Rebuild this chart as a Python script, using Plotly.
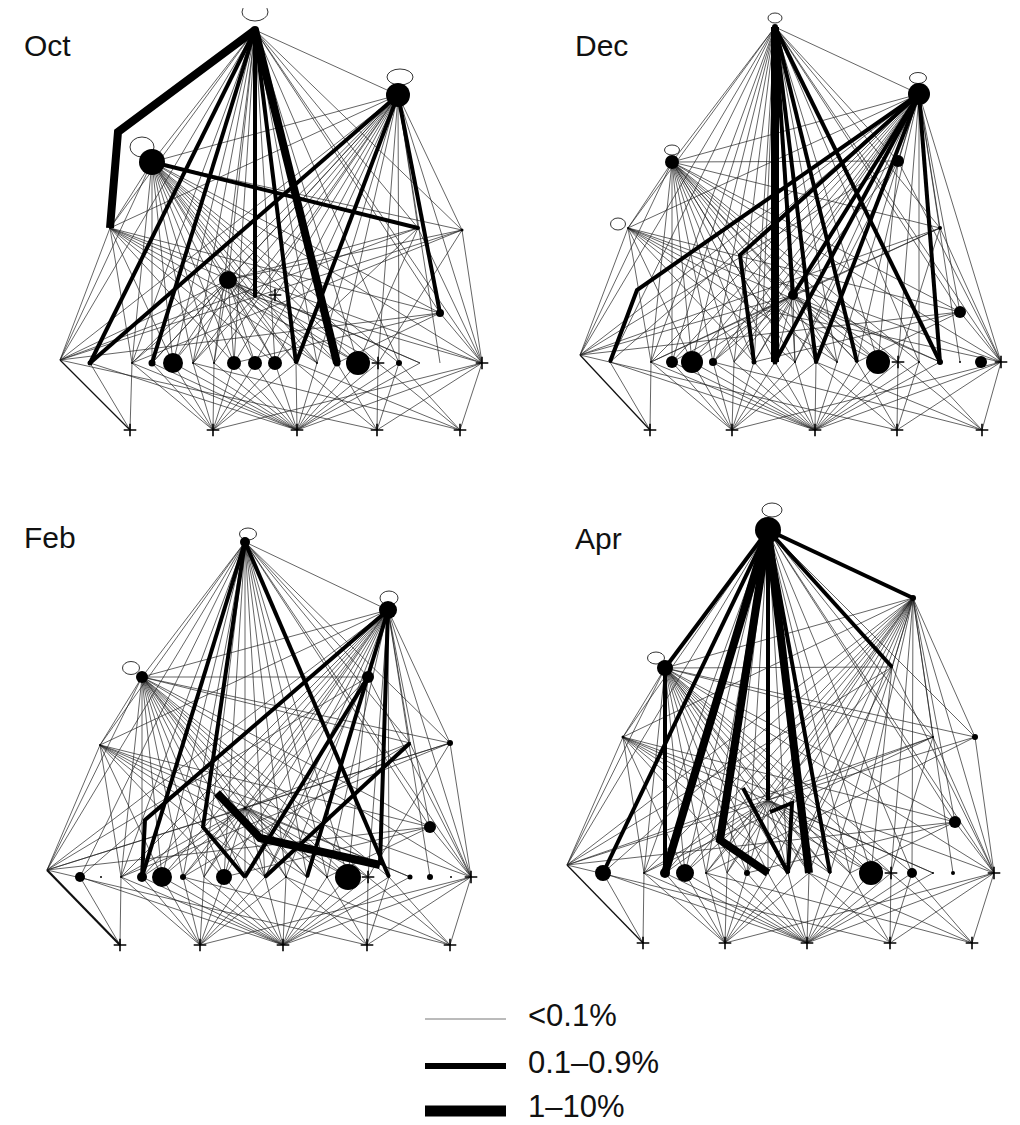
import plotly.graph_objects as go

# ---------------- data ----------------
PANELS = ["Oct", "Dec", "Feb", "Apr"]

# node order: 0 T,1 R,2 L,3 M,4 H,5 A,6 P,7 Q,8 S,9 Q2, 10-29 bottom row B0-B19, 30-34 basal D0-D4, 35+ bends/extras
OCT_X = [255, 398, 152, 228, 60, 110, 418, 462, 440, 255,
         90, 111, 132, 152, 173, 193, 214, 234, 255, 275, 296, 317, 337, 358, 378, 399, 420, 440, 461, 482,
         130, 213, 297, 377, 460, 118, 275]
OCT_Y = [30, 95, 162, 280, 360, 228, 228, 230, 313, 297,
         363, 363, 363, 363, 363, 363, 363, 363, 363, 363, 363, 363, 363, 363, 363, 363, 363, 363, 363, 363,
         430, 430, 430, 430, 430, 132, 295]
OCT_SIZE = [8, 24, 26, 18, 0, 2, 4, 3, 8, 2,
            5, 0, 2, 7, 20, 2, 2, 14, 14, 14, 2, 2, 7, 24, 0, 6, 0, 0, 0, 0,
            0, 0, 0, 0, 0, 0, 0]
OCT_CROSS = [24, 29, 30, 31, 32, 33, 34, 36]
OCT_LOOPS = [[255, 12, 26, 18], [400, 77, 26, 16], [142, 147, 24, 20]]
OCT_MED = [[0, 9], [0, 10], [0, 13], [0, 20], [1, 8], [1, 10], [1, 20], [2, 6]]
OCT_THICK = [[0, 35, 5], [0, 22]]

DEC_X = [265, 409, 162, 283, 70, 118, 388, 430, 450, 253,
         100, 121, 141, 162, 182, 203, 224, 244, 265, 285, 306, 327, 347, 368, 388, 409, 430, 450, 471, 491,
         140, 222, 305, 387, 472, 127, 230]
DEC_Y = [27, 94, 162, 295, 355, 228, 161, 228, 312, 310,
         362, 362, 362, 362, 362, 362, 362, 362, 362, 362, 362, 362, 362, 362, 362, 362, 362, 362, 362, 362,
         430, 430, 430, 430, 430, 290, 255]
DEC_SIZE = [6, 22, 14, 10, 0, 2, 12, 4, 12, 0,
            2, 0, 2, 12, 22, 8, 0, 5, 5, 2, 4, 2, 2, 24, 0, 2, 6, 2, 12, 0,
            0, 0, 0, 0, 0, 0, 0]
DEC_CROSS = [24, 29, 30, 31, 32, 33, 34]
DEC_LOOPS = [[265, 18, 14, 10], [408, 78, 17, 11], [162, 150, 15, 10], [108, 224, 15, 12]]
DEC_MED = [[0, 20], [0, 22], [0, 26], [0, 3], [1, 35, 10], [1, 36, 17], [1, 18], [1, 3], [1, 20], [1, 26]]
DEC_THICK = [[0, 18]]

FEB_X = [245, 388, 142, 245, 47, 100, 368, 450, 430, 410,
         80, 101, 121, 142, 162, 183, 204, 224, 245, 265, 286, 307, 327, 348, 368, 389, 410, 430, 451, 471,
         120, 200, 283, 367, 450, 217, 260, 380, 145, 203]
FEB_Y = [52, 120, 187, 318, 380, 255, 187, 253, 337, 253,
         387, 387, 387, 387, 387, 387, 387, 387, 387, 387, 387, 387, 387, 387, 387, 387, 387, 387, 387, 387,
         455, 455, 455, 455, 455, 303, 348, 375, 330, 337]
FEB_SIZE = [10, 18, 12, 3, 0, 2, 12, 6, 12, 2,
            10, 2, 2, 10, 20, 6, 0, 16, 2, 2, 2, 2, 2, 26, 0, 2, 5, 6, 2, 0,
            0, 0, 0, 0, 0, 0, 0, 0, 0, 0]
FEB_CROSS = [24, 29, 30, 31, 32, 33, 34]
FEB_LOOPS = [[248, 44, 17, 12], [389, 108, 18, 14], [131, 178, 17, 13]]
FEB_MED = [[0, 13], [1, 38, 13], [0, 39, 18], [0, 25], [1, 37], [6, 18], [9, 19], [1, 21]]
FEB_THICK = [[35, 36, 37]]

APR_X = [258, 403, 155, 258, 57, 113, 382, 423, 445, 465,
         93, 114, 134, 155, 175, 196, 217, 237, 258, 278, 299, 320, 340, 361, 381, 402, 423, 443, 464, 484,
         133, 215, 297, 380, 462, 210, 233, 282, 260]
APR_Y = [40, 108, 178, 310, 375, 247, 177, 247, 332, 247,
         383, 383, 383, 383, 383, 383, 383, 383, 383, 383, 383, 383, 383, 383, 383, 383, 383, 383, 383, 383,
         453, 453, 453, 453, 453, 350, 298, 313, 322]
APR_SIZE = [26, 6, 16, 0, 0, 3, 2, 2, 12, 6,
            16, 0, 2, 10, 18, 2, 0, 6, 2, 2, 2, 2, 0, 24, 0, 10, 2, 4, 0, 0,
            0, 0, 0, 0, 0, 0, 0, 0, 0]
APR_CROSS = [24, 29, 30, 31, 32, 33, 34]
APR_LOOPS = [[262, 20, 20, 14], [146, 168, 17, 12]]
APR_MED = [[0, 10], [0, 2], [0, 1], [0, 6], [2, 13], [0, 21], [0, 3], [36, 19, 37, 38]]
APR_THICK = [[0, 13], [0, 35, 18], [0, 20]]

# links present in every month (predator -> prey, weak flows)
THIN_EDGES = [
    [0, 1], [0, 2], [0, 3], [0, 4], [0, 5], [0, 6], [0, 7], [0, 8], [0, 9], [0, 10], [0, 12], [0, 13],
    [0, 14], [0, 15], [0, 16], [0, 17], [0, 19], [0, 20], [0, 21], [0, 22], [0, 23], [0, 25], [0, 29],
    [1, 2], [1, 3], [1, 4], [1, 5], [1, 6], [1, 7], [1, 8], [1, 9], [1, 10], [1, 12], [1, 13], [1, 14],
    [1, 15], [1, 16], [1, 17], [1, 18], [1, 19], [1, 20], [1, 21], [1, 22], [1, 24], [1, 25], [1, 27], [1, 29],
    [2, 3], [2, 4], [2, 5], [2, 6], [2, 7], [2, 8], [2, 9], [2, 12], [2, 13], [2, 14], [2, 15], [2, 16],
    [2, 17], [2, 18], [2, 19], [2, 20], [2, 21], [2, 22], [2, 23], [2, 24], [2, 25], [2, 29],
    [5, 4], [5, 8], [5, 12], [5, 14], [5, 17], [5, 19], [5, 21], [5, 23], [5, 26], [5, 29],
    [3, 12], [3, 13], [3, 14], [3, 15], [3, 16], [3, 17], [3, 18], [3, 19], [3, 20], [3, 21], [3, 22],
    [3, 23], [3, 24], [3, 26],
    [6, 3], [6, 19], [6, 23], [6, 29], [7, 3], [7, 12], [7, 24], [7, 29], [8, 17], [8, 22], [8, 29],
    [9, 3], [9, 15], [9, 29],
    [4, 3], [4, 6], [4, 7], [4, 8], [4, 33],
    [10, 30], [12, 30], [10, 32], [12, 31], [13, 31], [14, 31], [15, 31], [16, 31], [17, 31], [18, 31],
    [19, 31], [20, 31], [29, 31],
    [12, 32], [13, 32], [14, 32], [15, 32], [16, 32], [17, 32], [18, 32], [19, 32], [20, 32], [21, 32],
    [22, 32], [23, 32], [24, 32], [25, 32], [26, 32], [29, 32],
    [20, 33], [22, 33], [24, 33], [25, 33], [29, 33], [15, 34], [20, 34], [24, 34], [25, 34], [29, 34],
]
# hub -> first basal link (slightly stronger, drawn a bit heavier)
HUB_EDGES = [[4, 30]]

LEGEND_LABELS = ["<0.1%", "0.1\u20130.9%", "1\u201310%"]

# ---------------- layout / style ----------------
W, H = 1020, 1125
PAGE_MARGIN = 8  # default body margin of the html page
ORIGIN = {"Oct": (0, 0), "Dec": (510, 0), "Feb": (0, 490), "Apr": (510, 490)}
LABEL_POS = {"Oct": (22, 45), "Dec": (63, 45), "Feb": (22, 47), "Apr": (63, 48)}
DATA = {
    "Oct": (OCT_X, OCT_Y, OCT_SIZE, OCT_CROSS, OCT_LOOPS, OCT_MED, OCT_THICK),
    "Dec": (DEC_X, DEC_Y, DEC_SIZE, DEC_CROSS, DEC_LOOPS, DEC_MED, DEC_THICK),
    "Feb": (FEB_X, FEB_Y, FEB_SIZE, FEB_CROSS, FEB_LOOPS, FEB_MED, FEB_THICK),
    "Apr": (APR_X, APR_Y, APR_SIZE, APR_CROSS, APR_LOOPS, APR_MED, APR_THICK),
}
FONT = "Liberation Sans, Arial, sans-serif"

fig = go.Figure()
shapes = []
annotations = []


def path_xy(edges, xs, ys, ox, oy):
    px, py = [], []
    for e in edges:
        for n in e:
            px.append(xs[n] + ox)
            py.append(ys[n] + oy)
        px.append(None)
        py.append(None)
    return px, py


for name in PANELS:
    xs, ys, sz, crosses, loops, med, thick = DATA[name]
    ox, oy = ORIGIN[name]
    hub_w = 2.2 if name == "Feb" else 1.3
    for edges, width, color in ((THIN_EDGES, 0.7, "#222222"), (HUB_EDGES, hub_w, "#111111"),
                                (med, 4, "black"), (thick, 8, "black")):
        px, py = path_xy(edges, xs, ys, ox, oy)
        fig.add_trace(go.Scatter(x=px, y=py, mode="lines", opacity=1,
                                 line=dict(color=color, width=width),
                                 hoverinfo="skip", showlegend=False))
    for cx, cy, w, h in loops:
        shapes.append(dict(type="circle", xref="x", yref="y",
                           x0=cx + ox - w / 2, x1=cx + ox + w / 2,
                           y0=cy + oy - h / 2, y1=cy + oy + h / 2,
                           line=dict(color="black", width=0.8), fillcolor="rgba(0,0,0,0)"))
    dots = [i for i in range(len(xs)) if sz[i] > 0 and i not in crosses]
    fig.add_trace(go.Scatter(x=[xs[i] + ox for i in dots], y=[ys[i] + oy for i in dots],
                             mode="markers", opacity=1,
                             marker=dict(size=[sz[i] for i in dots], color="black", opacity=1,
                                         line=dict(width=0)),
                             hoverinfo="skip", showlegend=False))
    fig.add_trace(go.Scatter(x=[xs[i] + ox for i in crosses], y=[ys[i] + oy for i in crosses],
                             mode="markers", opacity=1,
                             marker=dict(symbol="cross-thin", size=9, color="black", opacity=1,
                                         line=dict(color="black", width=1.6)),
                             hoverinfo="skip", showlegend=False))
    lx, ly = LABEL_POS[name]
    annotations.append(dict(x=lx + ox, y=ly + oy, xref="x", yref="y", text=name,
                            showarrow=False, xanchor="left", yanchor="middle",
                            font=dict(family=FONT, size=30, color="#111")))

# legend
LEG_Y = [1019, 1066, 1111]
LEG_W = [1, 6, 11]
LEG_C = ["#777", "black", "black"]
for lab, y, w, c in zip(LEGEND_LABELS, LEG_Y, LEG_W, LEG_C):
    fig.add_trace(go.Scatter(x=[425, 506], y=[y, y], mode="lines",
                             line=dict(color=c, width=w), hoverinfo="skip", showlegend=False))
    annotations.append(dict(x=527, y=min(y + 15, H), xref="x", yref="y", text=lab, showarrow=False,
                            xanchor="left", yanchor="bottom", borderpad=0,
                            font=dict(family=FONT, size=31, color="#111")))

fig.update_layout(
    width=W - PAGE_MARGIN, height=H - PAGE_MARGIN, autosize=False,
    margin=dict(l=0, r=0, t=0, b=0),
    paper_bgcolor="white", plot_bgcolor="white",
    xaxis=dict(range=[PAGE_MARGIN, W], visible=False, fixedrange=True),
    yaxis=dict(range=[H, PAGE_MARGIN], visible=False, fixedrange=True),
    shapes=shapes, annotations=annotations,
)
fig.write_html("out.html")
